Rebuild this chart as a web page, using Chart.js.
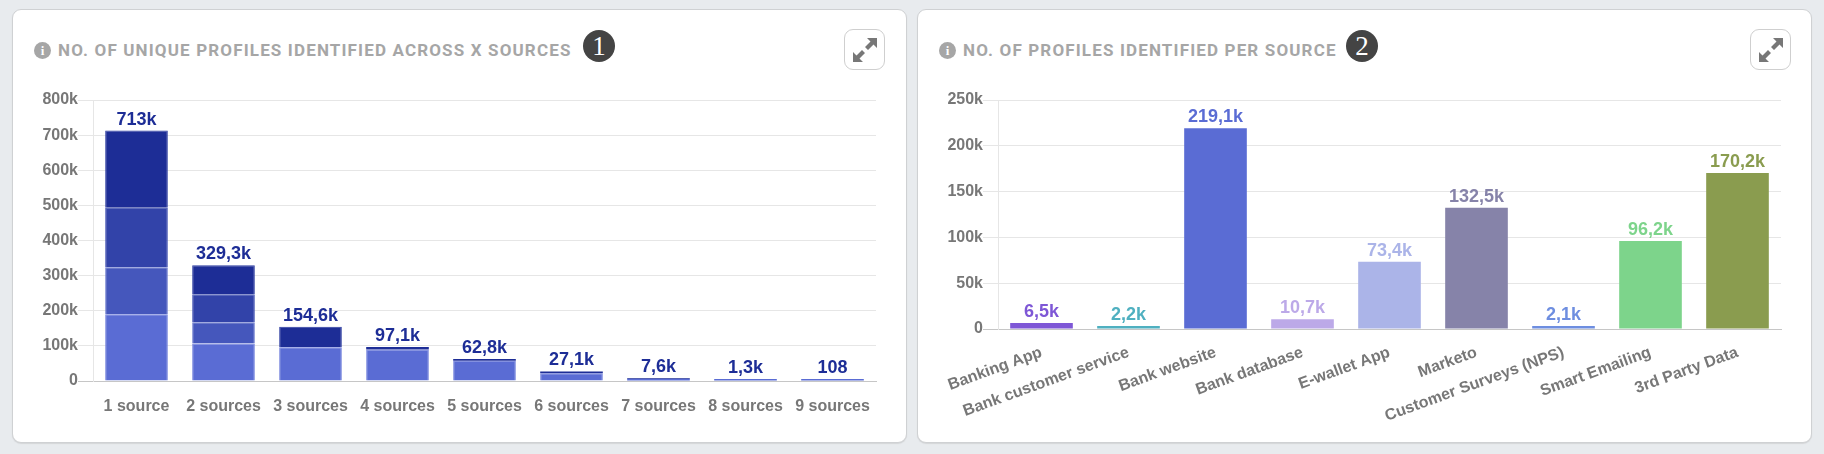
<!DOCTYPE html>
<html>
<head>
<meta charset="utf-8">
<title>Profiles identified</title>
<script src="https://cdn.jsdelivr.net/npm/chart.js@4"></script>
<style>
    html, body { margin: 0; padding: 0; width: 1824px; height: 454px; overflow: hidden; background: #e8ebee; }
    .card { position: absolute; top: 9px; width: 895px; height: 434px; box-sizing: border-box; background: #fff; border: 1px solid #cfd1d3; border-radius: 9px; box-shadow: 0 1px 1px #d4d6d8; }
    #card1 { left: 12px; }
    #card2 { left: 917px; }
    .chart-box { position: absolute; left: 0; top: 70px; width: 891px; height: 361px; }
    .info { position: absolute; left: 21px; top: 32px; width: 17px; height: 17px; border-radius: 50%; background: #a6a6a6; color: #fff; font: bold 13px/17px "Liberation Serif", serif; text-align: center; }
    .title { position: absolute; left: 45px; top: 30px; font: bold 17px/20px Roboto, sans-serif; letter-spacing: 1.15px; color: #a6a6a6; white-space: nowrap; }
    .num { position: absolute; top: 20px; width: 32px; height: 32px; border-radius: 50%; background: #444; color: #fff; font: 27px/32px "Liberation Serif", serif; text-align: center; }
    .expand { position: absolute; top: 19px; width: 41px; height: 41px; box-sizing: border-box; border: 1px solid #cfcfcf; border-radius: 9px; background: #fff; }
    .expand svg { position: absolute; left: 8px; top: 8px; }
</style>
</head>
<body>
<div class="card" id="card1">
    <span class="info">i</span>
    <span class="title">NO. OF UNIQUE PROFILES IDENTIFIED ACROSS X SOURCES</span>
    <span class="num" style="left:570px">1</span>
    <div class="expand" style="left:831px"><svg width="24" height="24" viewBox="0 0 24 24"><path fill="#777" d="M14 0H24V10L20.5 6.5L15 12L12 9L17.5 3.5ZM10 24H0V14L3.5 17.5L9 12L12 15L6.5 20.5Z"/></svg></div>
    <div class="chart-box"><canvas id="sourcesChart"></canvas></div>
</div>
<div class="card" id="card2">
    <span class="info">i</span>
    <span class="title">NO. OF PROFILES IDENTIFIED PER SOURCE</span>
    <span class="num" style="left:428px">2</span>
    <div class="expand" style="left:832px"><svg width="24" height="24" viewBox="0 0 24 24"><path fill="#777" d="M14 0H24V10L20.5 6.5L15 12L12 9L17.5 3.5ZM10 24H0V14L3.5 17.5L9 12L12 15L6.5 20.5Z"/></svg></div>
    <div class="chart-box"><canvas id="perSourceChart"></canvas></div>
</div>

<script>
// Left chart: profiles found in X sources, stacked
const sourceLabels = ['1 source', '2 sources', '3 sources', '4 sources', '5 sources', '6 sources', '7 sources', '8 sources', '9 sources'];
const stackLevel1 = [190000, 106500, 96000, 90000, 57800, 22100, 5600, 1300, 108];
const stackLevel2 = [134000, 60500, 0, 0, 0, 0, 0, 0, 0];
const stackLevel3 = [169000, 80000, 0, 0, 0, 0, 0, 0, 0];
const stackLevel4 = [220000, 82300, 58600, 7100, 5000, 5000, 2000, 0, 0];
const stackColors = ['#5a6cd4', '#4557bc', '#3243a9', '#1d2d96'];
const stackBorders = ['#6f7edb', '#6676cc', '#3f50b2', '#2b3ba0'];

// Right chart: profiles per source
const channelLabels = ['Banking App', 'Bank customer service', 'Bank website', 'Bank database', 'E-wallet App', 'Marketo', 'Customer Surveys (NPS)', 'Smart Emailing', '3rd Party Data'];
const channelValues = [6500, 2200, 219100, 10700, 73400, 132500, 2100, 96200, 170200];
const channelColors = ['#7e57d6', '#4fb0c0', '#5a6cd4', '#bca9e8', '#abb4e8', '#8683a9', '#6e8ee0', '#7dd48b', '#8a9c4f'];

const GRID = '#e6e6e6';
const AXIS = '#c6c6c6';
const TICK_FONT = { family: '"Liberation Sans", Arial, sans-serif', size: 16, weight: 'bold' };

function formatK(value) {
    if (value < 1000) return String(Math.round(value));
    return (value / 1000).toFixed(1).replace('.0', '').replace('.', ',') + 'k';
}

function shortTick(value) {
    return value === 0 ? '0' : (value / 1000) + 'k';
}

// Thin bars would be nothing but border, so they get none
function thinBarBorder(ctx) {
    return ctx.raw < 8000 ? 0 : 1;
}

// Writes the total above each bar, there is no datalabels plugin here
const barTotals = {
    id: 'barTotals',
    afterDatasetsDraw(chart, args, opts) {
        const ctx = chart.ctx;
        const lastMeta = chart.getDatasetMeta(chart.data.datasets.length - 1);
        ctx.save();
        ctx.font = 'bold 18px "Liberation Sans", Arial, sans-serif';
        ctx.textAlign = 'center';
        ctx.textBaseline = 'alphabetic';
        lastMeta.data.forEach((bar, i) => {
            let total = 0;
            chart.data.datasets.forEach(ds => { total += ds.data[i]; });
            ctx.fillStyle = opts.colors[i % opts.colors.length];
            ctx.fillText(formatK(total), bar.x, bar.y - 6);
        });
        ctx.restore();
    }
};

function makeOptions(yMax, yStep, bottomHeight, rotation, labelPadding, totalColors) {
    return {
        responsive: true,
        maintainAspectRatio: false,
        animation: false,
        layout: { padding: { top: 20, right: 28, left: 0, bottom: 0 } },
        plugins: {
            legend: { display: false },
            tooltip: { enabled: false },
            barTotals: { colors: totalColors }
        },
        scales: {
            x: {
                stacked: true,
                grid: { display: false },
                border: { color: AXIS },
                ticks: { font: TICK_FONT, color: '#777', padding: labelPadding, autoSkip: false, minRotation: rotation, maxRotation: rotation },
                afterFit(scale) { scale.height = bottomHeight; }
            },
            y: {
                stacked: true,
                min: 0,
                max: yMax,
                grid: { color: GRID, tickLength: 15, tickColor: ctx => ctx.tick.value === 0 ? AXIS : GRID },
                border: { color: GRID },
                ticks: { font: TICK_FONT, color: '#777', padding: 0, stepSize: yStep, callback: shortTick },
                afterFit(scale) { scale.width = 80; }
            }
        }
    };
}

new Chart(document.getElementById('sourcesChart'), {
    type: 'bar',
    plugins: [barTotals],
    data: {
        labels: sourceLabels,
        datasets: [stackLevel1, stackLevel2, stackLevel3, stackLevel4].map((values, i) => ({
            data: values,
            backgroundColor: stackColors[i],
            borderColor: stackBorders[i],
            borderWidth: thinBarBorder,
            minBarLength: i === 0 ? 2 : 0,
            categoryPercentage: 1,
            barPercentage: 0.72
        }))
    },
    options: makeOptions(800000, 100000, 60, 0, 8, ['#1d2d96'])
});

new Chart(document.getElementById('perSourceChart'), {
    type: 'bar',
    plugins: [barTotals],
    data: {
        labels: channelLabels,
        datasets: [{
            data: channelValues,
            backgroundColor: channelColors,
            borderWidth: 0,
            minBarLength: 3,
            categoryPercentage: 1,
            barPercentage: 0.72
        }]
    },
    options: makeOptions(250000, 50000, 112, 20, 6, channelColors)
});
</script>
</body>
</html>
